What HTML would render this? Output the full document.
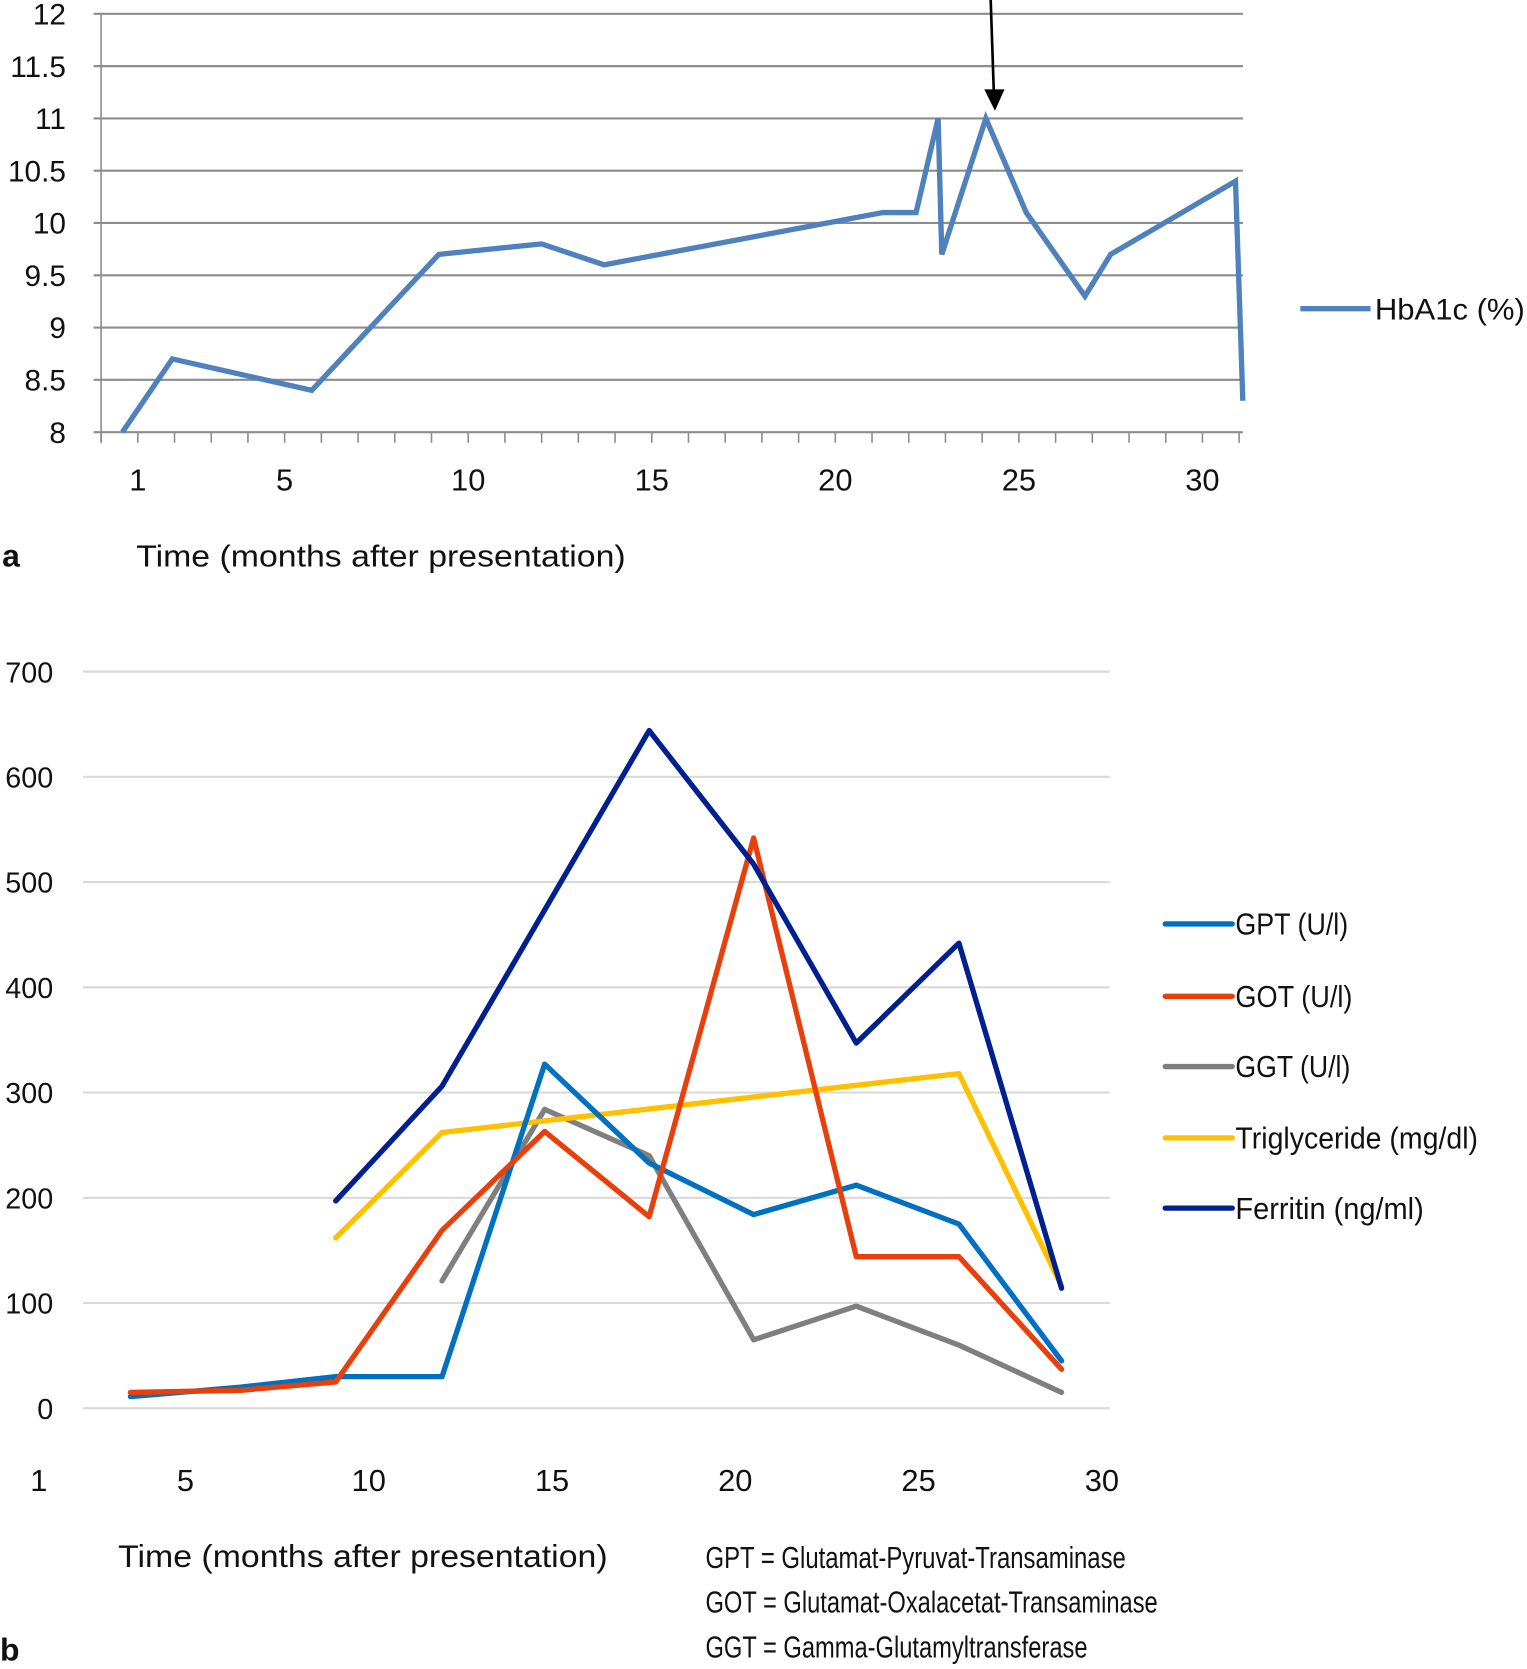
<!DOCTYPE html>
<html><head><meta charset="utf-8"><style>
html,body{margin:0;padding:0;background:#fff;}
svg{display:block;}
text{font-family:"Liberation Sans",sans-serif;fill:#111;}
.n{font-family:"Liberation Sans Narrow","Liberation Sans",sans-serif;}
</style></head><body>
<svg id="s" width="1527" height="1669" viewBox="0 0 1435 1568" preserveAspectRatio="none" xmlns="http://www.w3.org/2000/svg">
<g id="ga"></g>
<g id="gb"></g>
</svg>
<script>
// Chart a data
const aMonths = [0.58,1.94,5.74,9.2,12.0,13.7,21.3,22.2,22.8,22.9,24.1,25.2,26.8,27.5,30.9,31.1];
const aHbA1c = [8.0,8.7,8.4,9.7,9.8,9.6,10.1,10.1,11.0,9.7,11.0,10.1,9.3,9.7,10.4,8.3];
const aYTicks = ["8","8.5","9","9.5","10","10.5","11","11.5","12"];
const aXTicks = [1,5,10,15,20,25,30];
// Chart b data
const bCategories = ["GPT (U/l)","GOT (U/l)","GGT (U/l)","Triglyceride (mg/dl)","Ferritin (ng/ml)"];
const bGptX = [3.5,6.5,9.1,12,14.8,17.65,20.5,23.3,26.1,28.9];
const bGptY = [11,20,30,30,327,233,184,212,175,45];
const bGotX = [3.5,6.5,9.1,12,14.8,17.65,20.5,23.3,26.1,28.9];
const bGotY = [15,17,25,169,263,182,542,144,144,37];
const bGgtX = [12,14.8,17.65,20.5,23.3,26.1,28.9];
const bGgtY = [121,284,240,65,97,60,15];
const bTrigX = [9.1,12,26.1,28.9];
const bTrigY = [162,262,318,116];
const bFerX = [9.1,12,17.65,20.5,23.3,26.1,28.9];
const bFerY = [197,306,644,517,347,442,114];
const bYTicks = [0,100,200,300,400,500,600,700];
const bXTicks = [1,5,10,15,20,25,30];

const NS="http://www.w3.org/2000/svg";
function mk(tag,attrs,parent,txt){const e=document.createElementNS(NS,tag);for(const k in attrs)e.setAttribute(k,attrs[k]);if(txt!==undefined)e.textContent=txt;parent.appendChild(e);return e;}

// ---- chart a
const ga=document.getElementById('ga');
const ax=m=>95+m*34.5, ay=v=>406-(v-8)*98.25;
aYTicks.forEach(t=>{const v=parseFloat(t);
 const l=mk('line',{x1:88,x2:1168,y1:ay(v),y2:ay(v),stroke:'#8c8c8c','stroke-width':2},ga);
 
 const tx=mk('text',{x:62,y:ay(v)+10,'text-anchor':'end','font-size':28},ga,t);
 });
const yax=mk('line',{x1:95,x2:95,y1:13,y2:416,stroke:'#8c8c8c','stroke-width':1.5},ga);

for(let m=0;m<=31;m++){const t=mk('line',{x1:ax(m),x2:ax(m),y1:406,y2:416,stroke:'#8c8c8c','stroke-width':1.5},ga);
 }
aXTicks.forEach(m=>{const t=mk('text',{x:ax(m),y:461,'text-anchor':'middle','font-size':29},ga,m);
 });
const pa=mk('polyline',{points:aMonths.map((m,i)=>ax(m)+','+ay(aHbA1c[i])).join(' '),fill:'none',stroke:'#4f81bd','stroke-width':5,'stroke-linejoin':'miter'},ga);

const ar=mk('line',{x1:931,y1:0,x2:934,y2:88,stroke:'#000','stroke-width':2.5},ga);

const ah=mk('polygon',{points:'925,84 944,84 935,104'},ga);

const la=mk('line',{x1:1222,x2:1288,y1:290,y2:290,stroke:'#4f81bd','stroke-width':5},ga);

const lt=mk('text',{x:1292,y:300,'font-size':28,textLength:141,lengthAdjust:'spacingAndGlyphs'},ga,'HbA1c (%)');

const pl=mk('text',{x:2,y:532,'font-size':30,'font-weight':'bold'},ga,'a');

const at=mk('text',{x:128,y:532,'font-size':29,textLength:460,lengthAdjust:'spacingAndGlyphs'},ga,'Time (months after presentation)');


// ---- chart b
const gb=document.getElementById('gb');
const bx=m=>2+m*34.45, by=v=>1323-v*0.9886;
bYTicks.forEach(v=>{const l=mk('line',{x1:78,x2:1043,y1:by(v),y2:by(v),stroke:'#d9d9d9','stroke-width':2},gb);
 
 const t=mk('text',{x:50,y:by(v)+10,'text-anchor':'end','font-size':27,class:'n'},gb,v);
 });
bXTicks.forEach(m=>{const t=mk('text',{x:bx(m),y:1401,'text-anchor':'middle','font-size':29},gb,m);
 });
const colors=['#0070c0','#e8400c','#7f7f7f','#ffc000','#002090'];
const series=[[bGptX,bGptY],[bGotX,bGotY],[bGgtX,bGgtY],[bTrigX,bTrigY],[bFerX,bFerY]];
const order=[2,3,0,1,4];
order.forEach(i=>{const [xs,ys]=series[i];
 const p=mk('polyline',{points:xs.map((m,j)=>bx(m)+','+by(ys[j])).join(' '),fill:'none',stroke:colors[i],'stroke-width':5,'stroke-linejoin':'round','stroke-linecap':'round'},gb);
 });
const ly=[868,936,1002,1069,1135];
const lw=[106,110,108,228,177];
bCategories.forEach((c,i)=>{const l=mk('line',{x1:1095,x2:1158,y1:ly[i],y2:ly[i],stroke:colors[i],'stroke-width':5,'stroke-linecap':'round'},gb);
 
 const t=mk('text',{x:1161,y:ly[i]+10,'font-size':29,class:'n',textLength:lw[i],lengthAdjust:'spacingAndGlyphs'},gb,c);
 });
const bt=mk('text',{x:111,y:1472,'font-size':30,textLength:460,lengthAdjust:'spacingAndGlyphs'},gb,'Time (months after presentation)');

const bl=mk('text',{x:0,y:1560,'font-size':30,'font-weight':'bold'},gb,'b');

const fw=[395,425,359];
['GPT = Glutamat-Pyruvat-Transaminase','GOT = Glutamat-Oxalacetat-Transaminase','GGT = Gamma-Glutamyltransferase'].forEach((s,i)=>{
 const t=mk('text',{x:663,y:1473+i*42,'font-size':29,class:'n',textLength:fw[i],lengthAdjust:'spacingAndGlyphs'},gb,s);
 });
</script>
</body></html>
